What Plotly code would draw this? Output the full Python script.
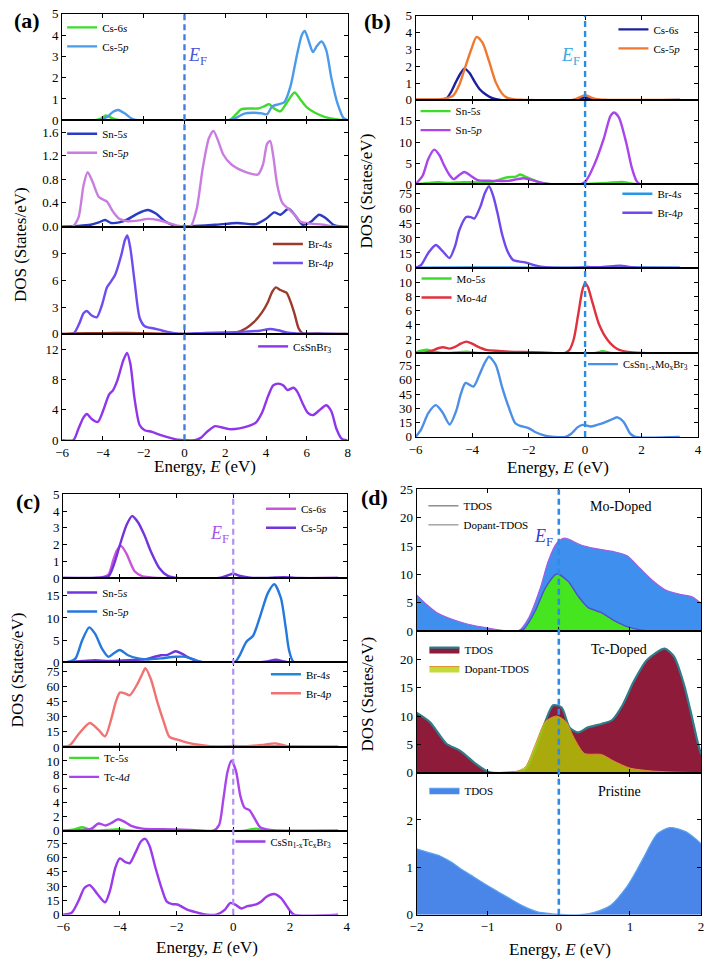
import plotly.graph_objects as go

W, H = 709, 966
SERIF = "Liberation Serif, Times New Roman, serif"

# ---------------- DATA ----------------
# Panel (a) CsSnBr3
A_CS6S_E = [-6, -4.4, -4.1, -3.85, -3.55, -3.2, 2.2, 2.5, 2.8, 3.2, 3.6, 3.9, 4.15, 4.4, 4.7, 5.0, 5.4, 5.7, 6.0, 6.4, 6.9, 7.4, 7.9, 8]
A_CS6S = [0, 0, 0.08, 0.22, 0.1, 0, 0, 0.25, 0.52, 0.55, 0.55, 0.65, 0.75, 0.55, 0.42, 0.8, 1.3, 0.95, 0.6, 0.35, 0.15, 0.05, 0, 0]
A_CS5P_E = [-6, -4.2, -3.8, -3.5, -3.25, -2.9, -2.6, -2.3, 2.2, 2.5, 2.9, 3.4, 3.8, 4.05, 4.3, 4.6, 4.9, 5.2, 5.5, 5.75, 5.9, 6.1, 6.3, 6.5, 6.72, 6.95, 7.2, 7.5, 7.8, 8]
A_CS5P = [0, 0, 0.15, 0.4, 0.48, 0.3, 0.08, 0, 0, 0.1, 0.3, 0.35, 0.32, 0.28, 0.65, 0.75, 0.85, 1.6, 3.0, 4.0, 4.2, 3.7, 3.2, 3.5, 3.7, 3.3, 2.0, 0.8, 0.1, 0]
A_SN5S_E = [-6, -5.2, -4.6, -4.2, -3.9, -3.6, -3.2, -2.8, -2.3, -1.8, -1.4, -1.0, -0.6, -0.3, 0, 0.5, 1.5, 2.6, 3.5, 4.0, 4.4, 4.7, 5.1, 5.4, 5.8, 6.2, 6.6, 6.9, 7.3, 7.7, 8]
A_SN5S = [0, 0.01, 0.03, 0.07, 0.11, 0.06, 0.07, 0.12, 0.22, 0.28, 0.22, 0.1, 0.03, 0, 0, 0.01, 0.03, 0.06, 0.04, 0.13, 0.24, 0.2, 0.3, 0.2, 0.03, 0.08, 0.2, 0.15, 0.03, 0, 0]
A_SN5P_E = [-6, -5.5, -5.2, -4.95, -4.75, -4.5, -4.2, -3.95, -3.8, -3.5, -3.2, -2.8, -2.3, -1.8, -1.3, -0.8, -0.4, 0, 0.3, 0.6, 0.9, 1.2, 1.42, 1.65, 1.9, 2.3, 2.8, 3.2, 3.6, 3.85, 4.05, 4.2, 4.35, 4.55, 4.8, 5.1, 5.4, 5.7, 6.2, 6.8, 7.3, 8]
A_SN5P = [0, 0, 0.15, 0.7, 0.92, 0.75, 0.5, 0.45, 0.42, 0.25, 0.13, 0.09, 0.1, 0.13, 0.11, 0.06, 0.02, 0, 0, 0.3, 1.0, 1.5, 1.62, 1.45, 1.22, 1.05, 0.95, 0.9, 0.88, 1.05, 1.4, 1.45, 1.2, 0.7, 0.4, 0.3, 0.2, 0.08, 0.05, 0.03, 0, 0]
A_BR4S_E = [-6, -5.5, -4, -2.8, -1.5, -0.8, 0, 2, 2.6, 3.0, 3.4, 3.8, 4.1, 4.3, 4.48, 4.7, 5.0, 5.2, 5.4, 5.6, 5.8, 6.5, 7, 8]
A_BR4S = [0, 0.05, 0.08, 0.1, 0.05, 0.01, 0, 0.02, 0.2, 0.6, 1.3, 2.4, 3.6, 4.7, 5.2, 4.9, 4.6, 3.6, 2.2, 0.6, 0.05, 0.05, 0, 0]
A_BR4P_E = [-6, -5.45, -5.15, -4.95, -4.79, -4.55, -4.3, -4.05, -3.8, -3.65, -3.4, -3.1, -2.92, -2.8, -2.65, -2.44, -2.2, -1.95, -1.5, -1.1, -0.5, 0, 1, 2, 3, 3.7, 4.2, 4.6, 5.0, 5.5, 6.5, 7.5, 8]
A_BR4P = [0, 0, 1.2, 2.3, 2.55, 2.05, 1.85, 3.2, 5.2, 5.7, 6.6, 8.8, 10.5, 11.0, 9.5, 5.7, 1.8, 0.85, 0.6, 0.37, 0.07, 0, 0.1, 0.15, 0.25, 0.35, 0.55, 0.4, 0.15, 0.05, 0.02, 0, 0]
A_TOT_E = [-6, -5.45, -5.2, -4.95, -4.79, -4.55, -4.25, -4.0, -3.7, -3.5, -3.3, -3.0, -2.82, -2.65, -2.45, -2.2, -1.95, -1.6, -1.2, -0.7, -0.3, 0, 0.5, 0.8, 1.1, 1.5, 1.8, 2.2, 2.7, 3.2, 3.5, 3.8, 4.1, 4.35, 4.6, 4.85, 5.05, 5.35, 5.55, 5.8, 6.05, 6.3, 6.6, 6.95, 7.2, 7.45, 7.7, 7.95, 8]
A_TOT = [0, 0, 1.5, 3.0, 3.45, 2.8, 2.4, 3.8, 6.0, 6.6, 7.8, 10.5, 11.5, 10.0, 5.5, 2.0, 1.3, 1.1, 0.7, 0.3, 0.05, 0, 0, 0.3, 1.1, 1.85, 1.7, 1.45, 1.55, 1.9, 2.3, 3.6, 5.8, 7.2, 7.45, 7.2, 6.6, 6.9, 6.3, 4.8, 3.6, 3.3, 3.9, 4.6, 3.8, 1.5, 0.2, 0, 0]

# Panel (b) Mo-doped
B_CS6S_E = [-6, -5.2, -4.9, -4.75, -4.58, -4.4, -4.27, -4.09, -3.9, -3.74, -3.5, -3.28, -3.0, -0.4, -0.15, 0, 0.15, 0.4, 3.35]
B_CS6S = [0, 0, 0.1, 0.45, 1.04, 1.6, 1.86, 1.6, 1.05, 0.65, 0.3, 0.1, 0, 0, 0.08, 0.15, 0.08, 0, 0]
B_CS5P_E = [-6, -5.2, -4.9, -4.67, -4.45, -4.27, -4.03, -3.84, -3.63, -3.4, -3.16, -2.95, -2.8, -2.5, -2.2, -0.4, -0.2, 0, 0.2, 0.5, 0.8, 3.35]
B_CS5P = [0.02, 0.03, 0.1, 0.25, 0.9, 1.8, 3.0, 3.75, 3.4, 2.3, 1.04, 0.4, 0.16, 0.02, 0, 0, 0.15, 0.28, 0.15, 0.02, 0, 0]
B_SN5S_E = [-6, -5.5, -5.2, -4.8, -4.3, -3.8, -3.3, -2.9, -2.65, -2.45, -2.3, -2.05, -1.7, -1.3, -1.0, 0, 0.4, 0.8, 1.3, 1.6, 1.9, 3.35]
B_SN5S = [0, 0.3, 0.45, 0.3, 0.5, 0.4, 0.5, 1.4, 1.7, 1.8, 2.3, 1.6, 0.6, 0.05, 0, 0, 0.2, 0.3, 0.55, 0.2, 0, 0]
B_SN5P_E = [-6, -5.75, -5.55, -5.34, -5.15, -5.0, -4.8, -4.65, -4.45, -4.27, -4.05, -3.8, -3.3, -2.7, -2.4, -2.17, -1.85, -1.45, -1.2, -0.15, 0.03, 0.33, 0.67, 0.9, 1.03, 1.2, 1.45, 1.65, 1.82, 1.95, 3.35]
B_SN5P = [0, 2.0, 6.0, 8.2, 6.8, 4.6, 2.2, 1.2, 2.2, 2.9, 2.0, 0.95, 0.8, 0.8, 1.2, 1.4, 0.95, 0.2, 0, 0, 0.8, 4.7, 11.0, 16.2, 17.0, 15.8, 10.0, 4.0, 0.8, 0, 0]
B_BR4S_E = [-6, -4, -2, 0, 2, 3.35]
B_BR4S = [0.3, 0.4, 0.3, 0.3, 0.4, 0.3]
B_BR4P_E = [-6, -5.8, -5.55, -5.28, -5.05, -4.8, -4.6, -4.45, -4.21, -4.05, -3.92, -3.7, -3.55, -3.4, -3.25, -3.1, -2.93, -2.75, -2.55, -2.35, -2.12, -1.77, -1.4, -0.8, -0.3, 0, 0.5, 1.0, 1.26, 1.5, 1.9, 3.35]
B_BR4P = [0, 3, 15, 23, 17, 9.9, 22, 38, 51, 51, 49.5, 62, 75, 82, 72, 55, 33, 17, 8, 6.5, 5.5, 2.5, 0.6, 0, 0.2, 0.8, 0.8, 1.8, 2.3, 1.2, 0, 0]
B_MO5S_E = [-6, -5.8, -5.6, -5.4, -5.1, -4.6, -4.2, -3.8, -3.0, 0.3, 0.62, 0.9, 1.2, 3.35]
B_MO5S = [0.1, 0.35, 0.5, 0.3, 0.05, 0.1, 0.2, 0.05, 0, 0, 0.3, 0.05, 0, 0]
B_MO4D_E = [-6, -5.75, -5.49, -5.2, -5.02, -4.8, -4.6, -4.4, -4.2, -4.0, -3.8, -3.5, -3.05, -2.7, -1.9, -1.2, -0.72, -0.55, -0.4, -0.25, -0.1, 0, 0.1, 0.27, 0.5, 0.79, 1.14, 1.6, 2.2, 3.35]
B_MO4D = [0, 0.05, 0.25, 0.7, 0.84, 0.65, 0.9, 1.35, 1.63, 1.35, 0.93, 0.47, 0.33, 0.23, 0.14, 0.05, 0.02, 0.5, 2.0, 5.3, 8.8, 9.9, 9.3, 7.0, 4.0, 1.9, 0.6, 0.14, 0, 0]
B_TOT_E = [-6, -5.8, -5.55, -5.28, -5.05, -4.79, -4.56, -4.4, -4.23, -3.95, -3.74, -3.55, -3.4, -3.16, -2.93, -2.7, -2.47, -2.23, -2.0, -1.77, -1.42, -1.1, -0.7, -0.49, -0.26, -0.08, 0.21, 0.56, 0.91, 1.14, 1.37, 1.6, 1.78, 3.35]
B_TOT = [0, 8, 25, 33.4, 26, 13.1, 27.5, 45, 56.8, 53, 65.4, 78, 84.3, 75.7, 51.6, 31, 14.4, 11, 9.3, 5.2, 1.4, 0, 0, 3.4, 10.3, 12.7, 11, 13.8, 17.9, 20.6, 15.5, 3.4, 0, 0]

# Panel (c) Tc-doped
C_CS6S_E = [-6, -4.8, -4.6, -4.4, -4.23, -4.1, -3.96, -3.77, -3.6, -3.48, -3.2, -3.0, -2.7, 3.7]
C_CS6S = [0, 0, 0.05, 0.2, 1.08, 1.65, 1.92, 1.47, 0.8, 0.4, 0.1, 0.05, 0, 0]
C_CS5P_E = [-6, -4.8, -4.4, -4.17, -4.0, -3.77, -3.57, -3.36, -3.13, -2.9, -2.61, -2.32, -2.0, -0.5, -0.2, 0, 0.25, 0.6, 1.0, 1.8, 2.2, 3.7]
C_CS5P = [0, 0.02, 0.1, 1.0, 1.96, 3.14, 3.7, 3.33, 2.55, 1.57, 0.6, 0.14, 0, 0, 0.15, 0.25, 0.12, 0.02, 0, 0.05, 0, 0]
C_SN5S_E = [-6, -5.3, -4.87, -4.4, -3.71, -3.13, -2.8, -2.55, -2.32, -2.03, -1.8, -1.62, -1.27, -1.0, 0.9, 1.2, 1.5, 1.8, 2.0, 3.7]
C_SN5S = [0, 0.3, 0.5, 0.3, 0.5, 0.66, 1.2, 1.6, 1.7, 2.5, 1.9, 1.25, 0.3, 0, 0, 0.2, 0.6, 0.2, 0, 0]
C_SN5P_E = [-6, -5.75, -5.56, -5.33, -5.08, -4.87, -4.63, -4.4, -4.2, -4.0, -3.71, -3.36, -3.01, -2.55, -2.03, -1.68, -1.33, -1.04, 0, 0.1, 0.23, 0.46, 0.7, 0.93, 1.22, 1.45, 1.68, 1.85, 1.97, 2.14, 3.7]
C_SN5P = [0, 0.2, 0.9, 4.9, 7.87, 6.4, 3.1, 1.25, 2.1, 2.8, 1.6, 0.9, 0.66, 0.9, 1.25, 1.25, 0.5, 0, 0, 0.3, 1.6, 4.6, 6.0, 10.0, 15.6, 17.6, 14.5, 7.9, 2.7, 0, 0]
C_BR4S_E = [-6, -4, -2, 0, 1.5, 3.7]
C_BR4S = [0.3, 0.4, 0.3, 0.3, 0.6, 0.3]
C_BR4P_E = [-6, -5.75, -5.45, -5.06, -4.75, -4.52, -4.3, -4.15, -4.0, -3.8, -3.65, -3.36, -3.2, -3.1, -2.9, -2.67, -2.45, -2.25, -2.0, -1.62, -1.16, -0.6, 0, 0.5, 1.0, 1.5, 1.8, 2.0, 3.7]
C_BR4P = [0, 2, 13, 23.9, 17, 10.5, 28, 44, 54, 53, 51.3, 63.6, 73, 78.3, 67, 44, 25, 10, 7.5, 4.3, 2, 0.3, 1, 0.8, 2.0, 3.6, 1.5, 0, 0]
C_TC5S_E = [-6, -5.6, -5.33, -5.1, -4.8, -4.3, -4.0, -3.6, 0.4, 0.81, 1.1, 3.7]
C_TC5S = [0, 0.2, 0.5, 0.2, 0, 0.15, 0.2, 0, 0, 0.3, 0, 0]
C_TC4D_E = [-6, -5.5, -5.0, -4.75, -4.5, -4.3, -4.06, -3.85, -3.6, -3.2, -2.5, -1.8, -1.2, -0.7, -0.5, -0.35, -0.2, -0.06, 0.1, 0.25, 0.4, 0.58, 0.75, 0.95, 1.3, 2.0, 3.7]
C_TC4D = [0, 0.05, 0.3, 1.04, 0.75, 1.1, 1.65, 1.3, 0.7, 0.3, 0.2, 0.15, 0.05, 0, 0.8, 4.5, 8.5, 10.05, 8.5, 5.0, 3.3, 2.92, 1.8, 0.5, 0.1, 0, 0]
C_TOT_E = [-6, -5.7, -5.45, -5.25, -5.06, -4.8, -4.52, -4.35, -4.15, -4.0, -3.8, -3.65, -3.45, -3.25, -3.1, -2.95, -2.75, -2.55, -2.35, -2.15, -1.97, -1.6, -1.25, -1.0, -0.6, -0.3, -0.1, 0.1, 0.29, 0.5, 0.64, 0.81, 1.0, 1.16, 1.45, 1.68, 1.97, 2.14, 3.7]
C_TOT = [0, 2, 15, 28, 31, 22, 13, 25, 50, 59, 55, 54, 65, 77, 79.5, 72, 50, 30, 14, 11, 10.7, 5, 2, 0.3, 0, 5, 12.4, 10, 6.5, 9.0, 9.6, 10.7, 14, 18.6, 21.7, 17.5, 5.5, 0, 0]

# Panel (d) TDOS comparison
D_MO_E = [-2, -1.85, -1.72, -1.5, -1.3, -1.07, -0.85, -0.7, -0.56, -0.42, -0.26, -0.15, -0.03, 0.08, 0.31, 0.5, 0.78, 0.96, 1.14, 1.33, 1.51, 1.7, 1.88, 2.0]
D_MO_TDOS = [6.4, 4.6, 3.3, 2.1, 1.3, 0.7, 0.25, 0.03, 0.1, 2.4, 7.6, 12.3, 15.5, 16.4, 15.2, 14.6, 14.0, 13.3, 11.1, 8.8, 7.2, 6.5, 6.0, 4.9]
D_MO_DOP_E = [-2, -0.75, -0.61, -0.49, -0.33, -0.19, -0.03, 0.13, 0.27, 0.41, 0.59, 0.78, 0.96, 1.14, 1.33, 2.0]
D_MO_DOP = [0, 0, 0, 0.4, 3.6, 7.6, 10.07, 8.8, 6.2, 4.2, 3.3, 1.85, 0.8, 0.23, 0, 0]
D_TC_E = [-2, -1.81, -1.58, -1.39, -1.16, -0.98, -0.7, -0.47, -0.33, -0.19, -0.08, 0.04, 0.15, 0.27, 0.41, 0.6, 0.75, 0.9, 1.05, 1.24, 1.49, 1.62, 1.75, 1.85, 1.95, 2.0]
D_TC_TDOS = [10.6, 8.9, 5.1, 3.9, 1.5, 0.1, 0, 0.5, 4, 9, 11.9, 11.5, 8, 7.1, 8, 8.6, 9.3, 12.0, 16.0, 19.9, 21.9, 20.5, 16, 11, 5.5, 3.2]
D_TC_DOP_E = [-2, -0.75, -0.6, -0.47, -0.33, -0.19, -0.03, 0.1, 0.22, 0.36, 0.6, 0.78, 1.0, 1.3, 1.6, 2.0]
D_TC_DOP = [0, 0, 0.2, 1, 5, 9, 10, 9, 6, 3.4, 3.2, 2, 0.8, 0.3, 0.1, 0]
D_PR_E = [-2, -1.85, -1.67, -1.5, -1.39, -1.2, -1.02, -0.85, -0.7, -0.5, -0.3, -0.1, 0.1, 0.3, 0.5, 0.73, 0.96, 1.1, 1.19, 1.38, 1.56, 1.79, 2.0]
D_PR_TDOS = [1.39, 1.32, 1.24, 1.1, 0.98, 0.8, 0.63, 0.48, 0.35, 0.18, 0.06, 0.02, 0, 0, 0.05, 0.2, 0.6, 0.95, 1.2, 1.7, 1.84, 1.75, 1.5]

E_FERMI = 0.0

# axis ranges / ticks
X_TICKS_A = [-6, -4, -2, 0, 2, 4, 6, 8]
X_TICKS_BC = [-6, -4, -2, 0, 2, 4]
X_TICKS_D = [-2, -1, 0, 1, 2]
Y_RANGES_A = [5, 1.8, 12, 14]
Y_TICKS_A = [[0, 1, 2, 3, 4, 5], [0, 0.4, 0.8, 1.2, 1.6], [0, 3, 6, 9], [0, 4, 8, 12]]
Y_RANGES_B = [5, 20, 84, 12, 88]
Y_RANGES_C = [5, 19, 84, 12, 88]
Y_TICKS_BC = [[0, 1, 2, 3, 4, 5], [0, 5, 10, 15], [0, 15, 30, 45, 60, 75], [0, 2, 4, 6, 8, 10], [0, 15, 30, 45, 60, 75]]
Y_RANGES_D = [25, 25, 3]
Y_TICKS_D = [[0, 5, 10, 15, 20, 25], [0, 5, 10, 15, 20], [0, 1, 2]]

# ---------------- LAYOUT HELPERS ----------------
def fx(p):
    return p / W

def fy(p):
    return 1 - p / H

fig = go.Figure()
layout = {}
idx = [0]

def add_sub(xpx, ytop, ybot, xr, xticks, yr, yticks, show_xlabels, yfmt=None):
    idx[0] += 1
    n = idx[0]
    s = "" if n == 1 else str(n)
    common = dict(showline=True, linecolor="black", linewidth=1, mirror="ticks",
                  ticks="inside", ticklen=4, tickcolor="black", showgrid=False, zeroline=False,
                  tickfont=dict(family=SERIF, size=13, color="black"))
    layout["xaxis" + s] = dict(domain=[fx(xpx[0]), fx(xpx[1])], range=xr, anchor="y" + s,
                               tickvals=xticks, showticklabels=show_xlabels, **common)
    ydict = dict(domain=[fy(ybot), fy(ytop)], range=[0, yr], anchor="x" + s,
                 tickvals=yticks, **common)
    if yfmt:
        ydict["tickformat"] = yfmt
    layout["yaxis" + s] = ydict
    return n

def axes(n):
    s = "" if n == 1 else str(n)
    return dict(xaxis="x" + s, yaxis="y" + s, legend="legend" + s)

# legend placed from the reference position of its first key line (start x, centre y)
def legend_at(n, line_x, first_y, anchor="left", size=11):
    s = "" if n == 1 else str(n)
    layout["legend" + s] = dict(x=fx(line_x - 12), y=fy(first_y - 17), xanchor=anchor, yanchor="top",
                                bgcolor="rgba(0,0,0,0)", borderwidth=0,
                                font=dict(family=SERIF, size=size, color="black"),
                                itemwidth=30, tracegroupgap=0)

def line(n, x, y, name, color, width=2.4, show=True):
    fig.add_trace(go.Scatter(x=x, y=y, mode="lines", name=name, showlegend=show,
                             line=dict(color=color, width=width, shape="spline", smoothing=0.7),
                             **axes(n)))

# ---------------- PANEL (a) ----------------
A_X = (56, 346)
A_B = [7, 115, 223, 332, 440]
a_ids = []
for i in range(4):
    a_ids.append(add_sub(A_X, A_B[i], A_B[i + 1], [-6, 8], X_TICKS_A, Y_RANGES_A[i], Y_TICKS_A[i],
                         i == 3, ".1f" if i == 1 else None))
line(a_ids[0], A_CS6S_E, A_CS6S, "Cs-6<i>s</i>", "#3ddc2a")
line(a_ids[0], A_CS5P_E, A_CS5P, "Cs-5<i>p</i>", "#4a9bea")
line(a_ids[1], A_SN5S_E, A_SN5S, "Sn-5<i>s</i>", "#2b3cc4")
line(a_ids[1], A_SN5P_E, A_SN5P, "Sn-5<i>p</i>", "#c97de0")
line(a_ids[2], A_BR4S_E, A_BR4S, "Br-4<i>s</i>", "#9c3a2c")
line(a_ids[2], A_BR4P_E, A_BR4P, "Br-4<i>p</i>", "#6f4cf0")
line(a_ids[3], A_TOT_E, A_TOT, "CsSnBr<sub>3</sub>", "#9035ea")
legend_at(a_ids[0], 68, 23)
legend_at(a_ids[1], 68, 131)
legend_at(a_ids[2], 277, 243)
legend_at(a_ids[3], 262, 347)

# ---------------- PANEL (b) ----------------
B_X = (415, 702)
B_B = [9, 94.3, 180, 265, 351.7, 436.7]
b_ids = []
for i in range(5):
    b_ids.append(add_sub(B_X, B_B[i], B_B[i + 1], [-6, 4], X_TICKS_BC, Y_RANGES_B[i], Y_TICKS_BC[i], i == 4))
line(b_ids[0], B_CS6S_E, B_CS6S, "Cs-6<i>s</i>", "#1d1f9e")
line(b_ids[0], B_CS5P_E, B_CS5P, "Cs-5<i>p</i>", "#f0792e")
line(b_ids[1], B_SN5S_E, B_SN5S, "Sn-5<i>s</i>", "#3ddc2a")
line(b_ids[1], B_SN5P_E, B_SN5P, "Sn-5<i>p</i>", "#a945ea")
line(b_ids[2], B_BR4S_E, B_BR4S, "Br-4<i>s</i>", "#2596e8")
line(b_ids[2], B_BR4P_E, B_BR4P, "Br-4<i>p</i>", "#7048ec")
line(b_ids[3], B_MO5S_E, B_MO5S, "Mo-5<i>s</i>", "#3ddc2a")
line(b_ids[3], B_MO4D_E, B_MO4D, "Mo-4<i>d</i>", "#e0323e")
line(b_ids[4], B_TOT_E, B_TOT, "CsSn<sub>1-x</sub>Mo<sub>x</sub>Br<sub>3</sub>", "#4b8fe6")
legend_at(b_ids[0], 628, 25)
legend_at(b_ids[1], 427, 108)
legend_at(b_ids[2], 632, 192)
legend_at(b_ids[3], 428, 278)
legend_at(b_ids[4], 597, 365, size=10.5)

# ---------------- PANEL (c) ----------------
C_X = (57, 345)
C_B = [495, 580, 665.7, 751.7, 836.7, 922]
c_ids = []
for i in range(5):
    c_ids.append(add_sub(C_X, C_B[i], C_B[i + 1], [-6, 4], X_TICKS_BC, Y_RANGES_C[i], Y_TICKS_BC[i], i == 4))
line(c_ids[0], C_CS6S_E, C_CS6S, "Cs-6<i>s</i>", "#c955dc")
line(c_ids[0], C_CS5P_E, C_CS5P, "Cs-5<i>p</i>", "#7434dc")
line(c_ids[1], C_SN5S_E, C_SN5S, "Sn-5<i>s</i>", "#7434dc")
line(c_ids[1], C_SN5P_E, C_SN5P, "Sn-5<i>p</i>", "#2679dc")
line(c_ids[2], C_BR4S_E, C_BR4S, "Br-4<i>s</i>", "#1e8ad6")
line(c_ids[2], C_BR4P_E, C_BR4P, "Br-4<i>p</i>", "#f07272")
line(c_ids[3], C_TC5S_E, C_TC5S, "Tc-5<i>s</i>", "#3ddc2a")
line(c_ids[3], C_TC4D_E, C_TC4D, "Tc-4<i>d</i>", "#a945ea")
line(c_ids[4], C_TOT_E, C_TOT, "CsSn<sub>1-x</sub>Tc<sub>x</sub>Br<sub>3</sub>", "#9a3aea")
legend_at(c_ids[0], 270, 512)
legend_at(c_ids[1], 68, 597)
legend_at(c_ids[2], 275, 680)
legend_at(c_ids[3], 70, 765)
legend_at(c_ids[4], 239, 850, size=10.5)

# ---------------- PANEL (d) ----------------
D_X = (416, 705)
D_B = [490, 634, 777.7, 922]
d_ids = []
for i in range(3):
    d_ids.append(add_sub(D_X, D_B[i], D_B[i + 1], [-2, 2], X_TICKS_D, Y_RANGES_D[i], Y_TICKS_D[i], i == 2))

def area(n, x, y, name, fillc, linec, lw, show=True):
    fig.add_trace(go.Scatter(x=x, y=y, mode="lines", name=name, showlegend=show, fill="tozeroy",
                             fillcolor=fillc,
                             line=dict(color=linec, width=lw, shape="spline", smoothing=0.7),
                             **axes(n)))

area(d_ids[0], D_MO_E, D_MO_TDOS, "TDOS", "#3f8fef", "#a35ee0", 1.2, show=False)
area(d_ids[0], D_MO_DOP_E, D_MO_DOP, "Dopant-TDOS", "#45e620", "#5050c8", 1.4, show=False)
# legend proxies (thin grey lines, as in the original key)
fig.add_trace(go.Scatter(x=[None], y=[None], mode="lines", name="TDOS",
                         line=dict(color="#555555", width=1), **axes(d_ids[0])))
fig.add_trace(go.Scatter(x=[None], y=[None], mode="lines", name="Dopant-TDOS",
                         line=dict(color="#777777", width=1), **axes(d_ids[0])))
area(d_ids[1], D_TC_E, D_TC_TDOS, "TDOS", "#8e1b3a", "#2d7d8a", 2.2)
area(d_ids[1], D_TC_DOP_E, D_TC_DOP, "Dopant-TDOS", "rgba(178,210,0,0.78)", "#e48a30", 1.0)
area(d_ids[2], D_PR_E, D_PR_TDOS, "TDOS", "#4a86e8", "#5aa2ee", 1.2)
legend_at(d_ids[0], 435, 509)
legend_at(d_ids[1], 436, 655)
legend_at(d_ids[2], 436, 798)

# ---------------- Fermi level lines ----------------
shapes = []
for ids, bounds, col, w in [(a_ids, A_B, "#3d7fe0", 2.4), (b_ids, B_B, "#2a8de0", 2.4),
                            (c_ids, C_B, "#b28ff0", 2.2), (d_ids, D_B, "#2e8be6", 2.6)]:
    s = "" if ids[0] == 1 else str(ids[0])
    shapes.append(dict(type="line", xref="x" + s, yref="paper", x0=E_FERMI, x1=E_FERMI,
                       y0=fy(bounds[-1]), y1=fy(bounds[0]),
                       line=dict(color=col, width=w, dash="6px,4px"), layer="above"))

# ---------------- Annotations ----------------
ann = []
def text(xp, yp, t, size, color="black", angle=0, bold=False, xanchor="center"):
    ann.append(dict(x=fx(xp), y=fy(yp), xref="paper", yref="paper", text=("<b>%s</b>" % t) if bold else t,
                    showarrow=False, textangle=angle, xanchor=xanchor, yanchor="middle",
                    font=dict(family=SERIF, size=size, color=color)))

text(20, 14, "(a)", 22, bold=True)
text(376, 15, "(b)", 22, bold=True)
text(21, 502, "(c)", 22, bold=True)
text(373, 498, "(d)", 22, bold=True)

text(194, 50, "<i>E</i><sub>F</sub>", 18, "#4a55d8")
text(572, 50, "<i>E</i><sub>F</sub>", 18, "#3aa8e0")
text(216, 536, "<i>E</i><sub>F</sub>", 18, "#a855e8")
text(545, 539, "<i>E</i><sub>F</sub>", 18, "#3340d8")

text(623, 507, "Mo-Doped", 14)
text(622, 653, "Tc-Doped", 14)
text(622, 797, "Pristine", 14)

text(201, 467, "Energy, <i>E</i> (eV)", 17)
text(560, 468, "Energy, <i>E</i> (eV)", 17)
text(203, 955, "Energy, <i>E</i> (eV)", 17)
text(562, 957, "Energy, <i>E</i> (eV)", 17)

text(13, 241, "DOS (States/eV)", 17, angle=-90)
text(365, 187, "DOS (States/eV)", 17, angle=-90)
text(11, 673, "DOS (States/eV)", 17, angle=-90)
text(366, 698, "DOS (States/eV)", 17, angle=-90)

layout.update(dict(width=W, height=H, margin=dict(l=0, r=0, t=0, b=0),
                   paper_bgcolor="white", plot_bgcolor="white",
                   font=dict(family=SERIF, size=13, color="black"),
                   shapes=shapes, annotations=ann, showlegend=True))
fig.update_layout(**layout)
fig.write_html("out.html", config={"displayModeBar": False},
               post_script="document.body.style.margin='0px';document.body.style.padding='0px';")
